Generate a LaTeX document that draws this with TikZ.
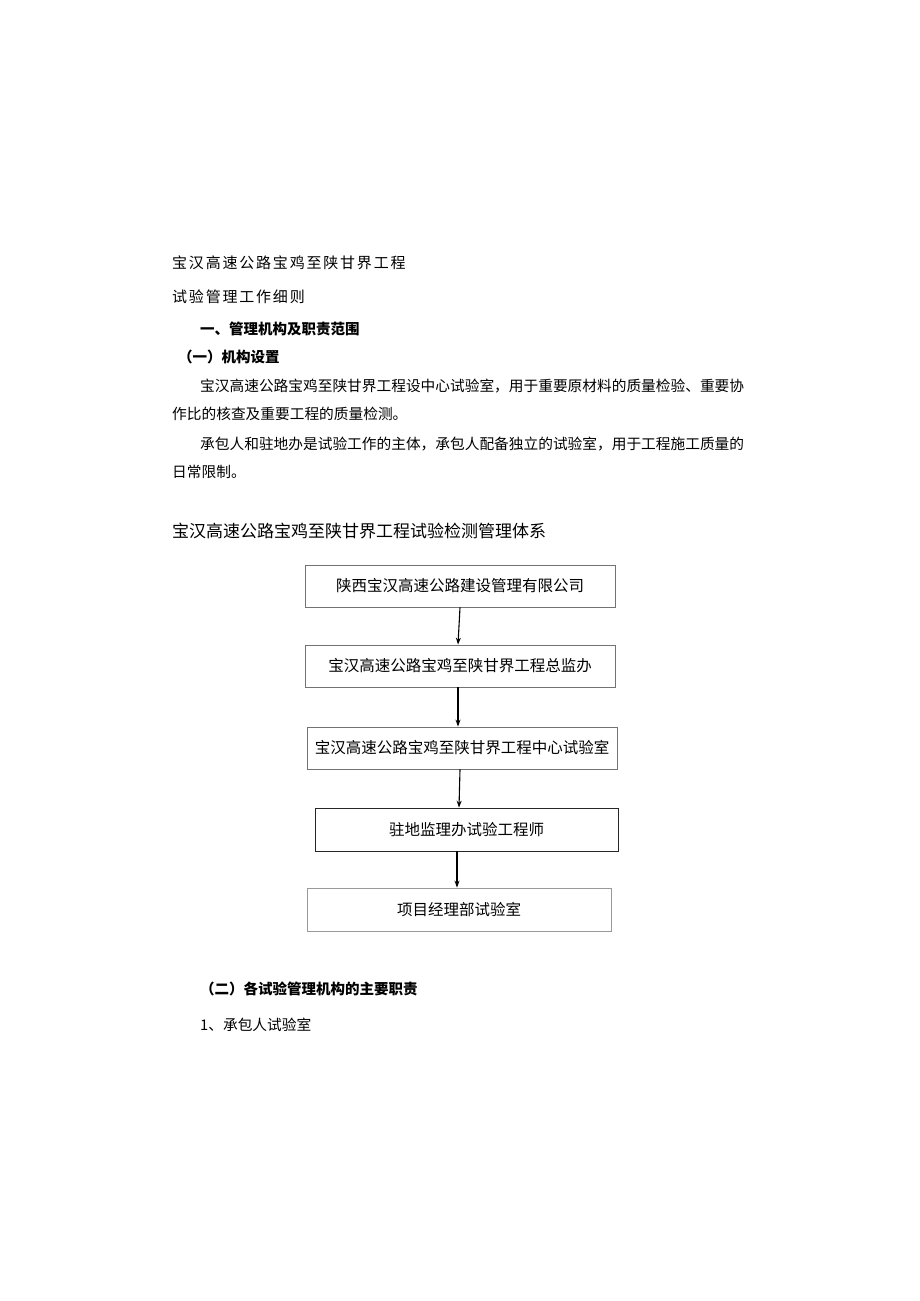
\documentclass[tikz,border=0pt]{standalone}
\usepackage{fontspec}
\setmainfont{Noto Sans CJK SC}
\usetikzlibrary{arrows.meta}
\begin{document}
\begin{tikzpicture}[x=1pt,y=-1pt,
  txt/.style={anchor=west,inner sep=0pt,font=\fontsize{14.7}{16}\selectfont},
  hd/.style={anchor=west,inner sep=0pt,font=\fontsize{14.5}{16}\selectfont\bfseries},
  box/.style={draw=black!55,line width=0.8pt,minimum height=42pt,inner sep=0pt,font=\fontsize{15.5}{16}\selectfont},
  arr/.style={-{Stealth[length=7pt,width=5pt]},line width=1.1pt}]
\useasboundingbox (0,0) rectangle (920,1301);
\node[txt,font=\fontsize{15}{16}\selectfont\addfontfeatures{LetterSpace=12}] (t1) at (172,263) {宝汉高速公路宝鸡至陕甘界工程};
\node[txt,font=\fontsize{15}{16}\selectfont\addfontfeatures{LetterSpace=12}] (t2) at (172,297) {试验管理工作细则};
\node[hd] (h1) at (200,329) {一、管理机构及职责范围};
\node[hd] (h2) at (178,357) {（一）机构设置};
\node[txt] (p1) at (200,386) {宝汉高速公路宝鸡至陕甘界工程设中心试验室，用于重要原材料的质量检验、重要协};
\node[txt] (p2) at (172,414) {作比的核查及重要工程的质量检测。};
\node[txt] (p3) at (200,444) {承包人和驻地办是试验工作的主体，承包人配备独立的试验室，用于工程施工质量的};
\node[txt] (p4) at (172,472) {日常限制。};
\node[txt,font=\fontsize{17}{18}\selectfont] (ti) at (172,531) {宝汉高速公路宝鸡至陕甘界工程试验检测管理体系};
\node[box,minimum width=310pt] (b1) at (460,586) {陕西宝汉高速公路建设管理有限公司};
\node[box,minimum width=310pt] (b2) at (460,666) {宝汉高速公路宝鸡至陕甘界工程总监办};
\node[box,minimum width=310pt] (b3) at (462,748) {宝汉高速公路宝鸡至陕甘界工程中心试验室};
\node[box,draw=black!85,minimum width=303pt,minimum height=43pt] (b4) at (466.5,829.5) {驻地监理办试验工程师};
\node[box,draw=black!40,minimum width=304pt,minimum height=43pt] (b5) at (459,909.5) {项目经理部试验室};
\draw[arr] (b1.south -| 460,0) -- (b2.north -| 458,0);
\draw[arr] (b2.south -| 458,0) -- (b3.north -| 458,0);
\draw[arr] (b3.south -| 460,0) -- (b4.north -| 459,0);
\draw[arr] (b4.south -| 457,0) -- (b5.north -| 457,0);
\node[hd] (h3) at (200,989) {（二）各试验管理机构的主要职责};
\node[txt] (h4) at (200,1025) {1、承包人试验室};
\end{tikzpicture}
\end{document}
